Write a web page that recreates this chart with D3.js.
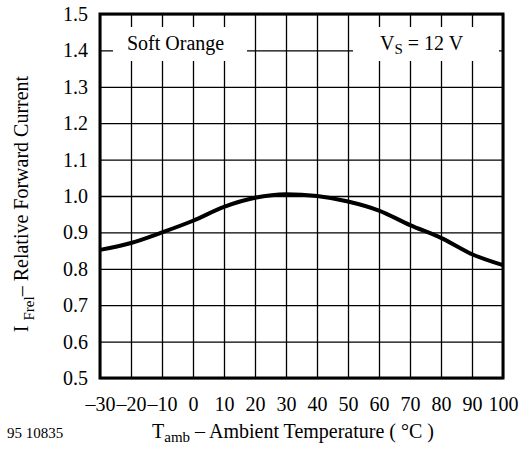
<!DOCTYPE html>
<html>
<head>
<meta charset="utf-8">
<script src="https://cdn.jsdelivr.net/npm/d3@7.9.0/dist/d3.min.js"></script>
<style>
  body { margin: 0; background: #fff; }
  svg { font-family: "Liberation Serif", "Times New Roman", serif; }
</style>
</head>
<body>
<svg width="525" height="452"></svg>
<script>
// data
const temps = [-30, -20, -10, 0, 10, 20, 30, 40, 50, 60, 70, 80, 90, 100];
const relCurrent = [0.852, 0.871, 0.90, 0.932, 0.97, 0.995, 1.005, 1.0, 0.985, 0.96, 0.92, 0.885, 0.84, 0.81];
const xTicks = [-30, -20, -10, 0, 10, 20, 30, 40, 50, 60, 70, 80, 90, 100];
const yTicks = [0.5, 0.6, 0.7, 0.8, 0.9, 1.0, 1.1, 1.2, 1.3, 1.4, 1.5];

const plotL = 100, plotT = 14, plotR = 503, plotB = 378;
const w = plotR - plotL, h = plotB - plotT;
const fs = 20, fsSub = 15;

const svg = d3.select('svg');

let x = d3.scaleLinear().domain([-30, 100]).range([plotL, plotR]);
let y = d3.scaleLinear().domain([0.5, 1.5]).range([plotB, plotT]);

const fmtX = (d) => d < 0 ? '\u2013' + Math.abs(d) : String(d);

// grid + tick labels
let gx = svg.append('g')
  .attr('transform', `translate(0,${plotB})`)
  .call(d3.axisBottom(x).tickValues(xTicks).tickSize(-h).tickPadding(19).tickFormat(fmtX));
let gy = svg.append('g')
  .attr('transform', `translate(${plotL},0)`)
  .call(d3.axisLeft(y).tickValues(yTicks).tickSize(-w).tickPadding(12).tickFormat(d3.format('.1f')));

[gx, gy].forEach((g) => {
  g.select('.domain').remove();
  g.selectAll('line').attr('stroke', '#000').attr('stroke-width', 1.3);
  g.selectAll('text').attr('font-size', fs).attr('fill', '#000')
    .attr('font-family', '"Liberation Serif", "Times New Roman", serif');
});

// white boxes behind the two labels
svg.append('rect').attr('x', 113).attr('y', 27).attr('width', 134).attr('height', 34).attr('fill', '#fff');
svg.append('rect').attr('x', 353).attr('y', 27).attr('width', 146).attr('height', 34).attr('fill', '#fff');

svg.append('text').attr('x', 127).attr('y', 50).attr('font-size', fs).text('Soft Orange');

let vs = svg.append('text').attr('x', 380).attr('y', 50).attr('font-size', fs);
vs.append('tspan').text('V');
vs.append('tspan').attr('font-size', fsSub).attr('dy', 4).text('S');
vs.append('tspan').attr('dy', -4).text(' = 12 V');

// the curve
let line = d3.line()
  .x((d, i) => x(temps[i]))
  .y((d) => y(d))
  .curve(d3.curveMonotoneX);

svg.append('path')
  .attr('d', line(relCurrent))
  .attr('fill', 'none')
  .attr('stroke', '#000')
  .attr('stroke-width', 4)
  .attr('stroke-linejoin', 'round');

// frame
svg.append('rect')
  .attr('x', plotL).attr('y', plotT).attr('width', w).attr('height', h)
  .attr('fill', 'none').attr('stroke', '#000').attr('stroke-width', 3);

// axis titles
let yl = svg.append('text')
  .attr('transform', 'translate(28,204) rotate(-90)')
  .attr('text-anchor', 'middle')
  .attr('font-size', fs);
yl.append('tspan').text('I ');
yl.append('tspan').attr('font-size', fsSub).attr('dy', 6).text('Frel');
yl.append('tspan').attr('dy', -6).text('\u2013 Relative Forward Current');

let xl = svg.append('text').attr('x', 152).attr('y', 438).attr('font-size', fs);
xl.append('tspan').text('T');
xl.append('tspan').attr('font-size', fsSub).attr('dy', 4).text('amb');
xl.append('tspan').attr('dy', -4).text(' \u2013 Ambient Temperature ( \u00b0C )');

svg.append('text').attr('x', 7).attr('y', 438).attr('font-size', 15).text('95 10835');
</script>
</body>
</html>
